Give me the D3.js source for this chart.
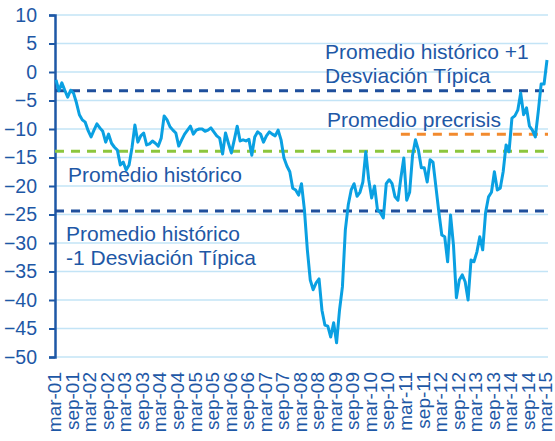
<!DOCTYPE html>
<html>
<head>
<meta charset="utf-8">
<script src="https://cdn.jsdelivr.net/npm/d3@7"></script>
<style>
  html, body { margin: 0; padding: 0; background: #fff; }
  svg text { font-family: "Liberation Sans", Arial, sans-serif; fill: #1e58a6; }
</style>
</head>
<body>
<div id="chart"></div>
<script>
// Serie mensual mar-01 .. mar-15
const values = [
  -1.4, -3.3, -1.9, -3.2, -4.4, -3.2, -3.7, -5.4, -7.5, -8.4,
  -8.8, -10.3, -11.4, -10.2, -9.1, -9.8, -10.4, -12.3, -10.9, -12.5,
  -13.2, -13.7, -16.3, -15.8, -17.2, -16.3, -13.3, -9.3, -12.3, -11.2,
  -10.7, -12.8, -12.6, -12.1, -12.5, -13.0, -11.6, -7.7, -8.4, -9.6,
  -10.2, -10.7, -13.0, -11.9, -10.9, -10.2, -9.5, -10.9, -10.2, -10.0,
  -10.0, -10.4, -10.2, -9.8, -10.5, -11.2, -11.6, -14.4, -10.7, -12.5,
  -14.2, -11.9, -9.5, -12.1, -11.9, -12.1, -11.8, -14.6, -11.4, -10.5,
  -10.9, -12.3, -11.2, -10.5, -10.9, -11.2, -10.2, -11.9, -15.1, -16.5,
  -17.5, -20.4, -20.7, -21.6, -19.6, -24.2, -31.2, -36.5, -38.2, -37.0,
  -36.3, -41.8, -44.4, -44.6, -46.5, -44.0, -47.5, -41.8, -37.7, -27.7,
  -23.3, -20.7, -19.6, -21.8, -21.1, -19.3, -14.0, -18.9, -22.1, -20.0,
  -24.2, -24.7, -25.6, -19.6, -18.9, -19.6, -21.9, -22.5, -18.6, -15.1,
  -22.5, -21.1, -14.6, -11.9, -13.7, -16.8, -16.8, -19.3, -15.4, -15.8,
  -20.2, -24.6, -28.6, -28.9, -33.3, -25.1, -30.4, -39.6, -36.5, -35.6,
  -36.8, -40.0, -33.0, -33.3, -31.6, -28.9, -31.2, -24.6, -21.9, -21.1,
  -17.5, -20.7, -20.4, -17.5, -12.8, -14.0, -8.1, -7.7, -6.7, -3.7,
  -7.5, -6.3, -9.5, -10.2, -11.4, -7.0, -2.1, -2.1, 2.1
];

// Etiquetas semestrales del eje X
const tickLabels = [
  'mar-01', 'sep-01', 'mar-02', 'sep-02', 'mar-03', 'sep-03', 'mar-04', 'sep-04',
  'mar-05', 'sep-05', 'mar-06', 'sep-06', 'mar-07', 'sep-07', 'mar-08', 'sep-08',
  'mar-09', 'sep-09', 'mar-10', 'sep-10', 'mar-11', 'sep-11', 'mar-12', 'sep-12',
  'mar-13', 'sep-13', 'mar-14', 'sep-14', 'mar-15'
];
const yTicks = [10, 5, 0, -5, -10, -15, -20, -25, -30, -35, -40, -45, -50];

// Niveles de referencia
const mediaHist = -13.9;
const mediaMas1 = -3.3;
const mediaMenos1 = -24.4;
const mediaPrecrisis = -10.9;
const precrisisDesde = 118; // índice de mes donde empieza la línea naranja

const W = 555, H = 441;
const m = {left: 55, right: 548, top: 15, bottom: 357};

const svg = d3.select('#chart').append('svg')
  .attr('width', W).attr('height', H);

const x = d3.scaleLinear().domain([0, values.length - 1]).range([56, 547]);
const y = d3.scaleLinear().domain([-50, 10]).range([m.bottom, m.top]);

// Rejilla
svg.append('g').selectAll('line')
  .data(yTicks)
  .join('line')
  .attr('x1', m.left).attr('x2', m.right)
  .attr('y1', d => y(d)).attr('y2', d => y(d))
  .attr('stroke', '#c3e4f6').attr('stroke-width', 1.5);

// Eje Y
const yAxis = d3.axisLeft(y).tickValues(yTicks).tickSize(6).tickPadding(12);
const yAxisG = svg.append('g').attr('transform', `translate(${m.left},0)`).call(yAxis);
yAxisG.select('.domain').attr('stroke', '#1e58a6').attr('stroke-width', 2.5);
yAxisG.selectAll('.tick line').attr('stroke', '#1e58a6').attr('stroke-width', 2);
yAxisG.selectAll('.tick text')
  .style('font-size', '19.5px')
  .attr('fill', '#1e58a6');

// Eje X (etiquetas giradas)
svg.append('g').selectAll('text')
  .data(tickLabels)
  .join('text')
  .attr('transform', (d, i) => `translate(${x(i * 6) - 1},372) rotate(-90)`)
  .attr('text-anchor', 'end')
  .attr('dy', '0.33em')
  .style('font-size', '19px')
  .text(d => d);

// Líneas de referencia
const refs = [
  {v: mediaMas1, from: 0, color: '#1f4f9c'},
  {v: mediaMenos1, from: 0, color: '#1f4f9c'},
  {v: mediaHist, from: 0, color: '#8cc63e'},
  {v: mediaPrecrisis, from: precrisisDesde, color: '#f28a2e'}
];
svg.append('g').selectAll('line')
  .data(refs)
  .join('line')
  .attr('x1', d => d.from === 0 ? m.left : x(d.from))
  .attr('x2', m.right)
  .attr('y1', d => y(d.v)).attr('y2', d => y(d.v))
  .attr('stroke', d => d.color)
  .attr('stroke-width', 3)
  .attr('stroke-dasharray', '9,7');

// Serie
const line = d3.line().x((d, i) => x(i)).y(d => y(d));
svg.append('path')
  .datum(values)
  .attr('d', line)
  .attr('fill', 'none')
  .attr('stroke', '#0aa0e2')
  .attr('stroke-width', 3)
  .attr('stroke-linejoin', 'round');

// Anotaciones
const notes = [
  {t: 'Promedio histórico +1', x: 325, y: 59},
  {t: 'Desviación Típica', x: 325, y: 83},
  {t: 'Promedio precrisis', x: 327, y: 127},
  {t: 'Promedio histórico', x: 68, y: 182},
  {t: 'Promedio histórico', x: 66, y: 241},
  {t: '-1 Desviación Típica', x: 66, y: 265}
];
svg.append('g').selectAll('text')
  .data(notes)
  .join('text')
  .attr('x', d => d.x).attr('y', d => d.y)
  .style('font-size', '21px')
  .text(d => d.t);
</script>
</body>
</html>
